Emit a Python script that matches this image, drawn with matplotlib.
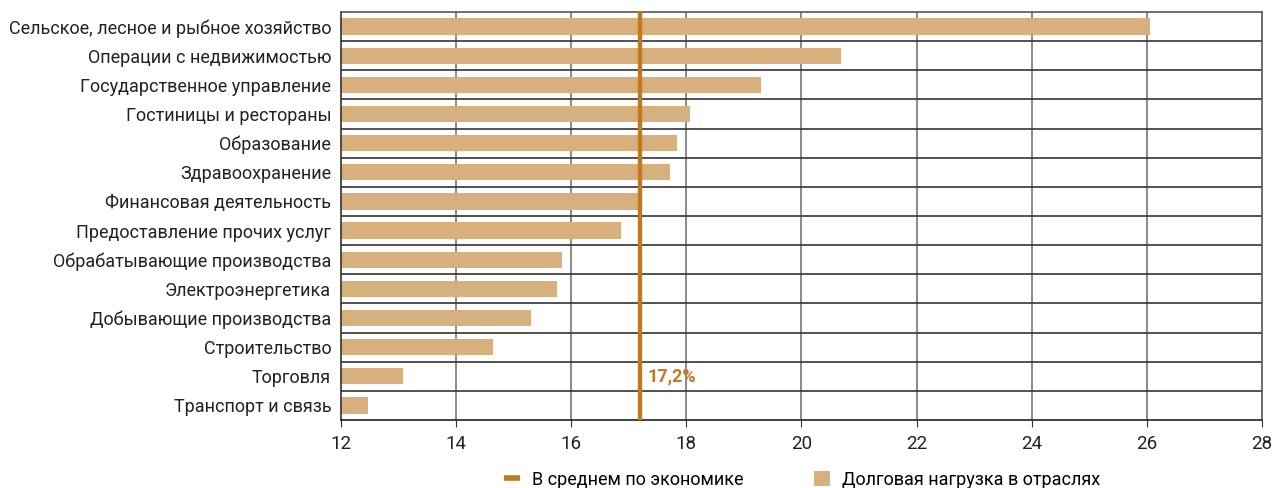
import matplotlib
matplotlib.use('Agg')
import matplotlib.pyplot as plt
import numpy as np
from matplotlib.lines import Line2D
from matplotlib.patches import Patch

plt.rcParams['font.family'] = ['Liberation Sans Narrow', 'Roboto', 'DejaVu Sans']

otrasli = ['Сельское, лесное и рыбное хозяйство', 'Операции с недвижимостью',
           'Государственное управление', 'Гостиницы и рестораны', 'Образование',
           'Здравоохранение', 'Финансовая деятельность', 'Предоставление прочих услуг',
           'Обрабатывающие производства', 'Электроэнергетика', 'Добывающие производства',
           'Строительство', 'Торговля', 'Транспорт и связь']
nagruzka = [26.05, 20.69, 19.30, 18.06, 17.84, 17.72, 17.16, 16.86,
            15.84, 15.75, 15.30, 14.64, 13.08, 12.47]
srednee = 17.2
xticks = [12, 14, 16, 18, 20, 22, 24, 26, 28]

bar_color = '#D8B07E'
line_color = '#BF7A22'

fig = plt.figure(figsize=(12.76, 4.88), dpi=100)
ax = fig.add_axes([0.2672, 0.1393, 0.7218, 0.8361])

y = np.arange(len(otrasli))
ax.barh(y, [v - 12 for v in nagruzka], left=12, height=0.56, color=bar_color, zorder=2)
ax.axvline(srednee, color=line_color, lw=3.2, zorder=3)
ax.text(srednee + 0.12, y[-2], '17,2%', color=line_color, fontsize=13,
        fontweight='bold', va='center', ha='left', zorder=4)

ax.set_xlim(12, 28)
ax.set_ylim(len(otrasli) - 0.5, -0.5)
ax.set_xticks(xticks)
ax.set_xticklabels([str(t) for t in xticks], fontsize=13.5, color='#222222')
ax.set_yticks(y)
ax.set_yticklabels(otrasli, fontsize=13, color='#222222')
ax.tick_params(axis='y', length=0, pad=7)
ax.tick_params(axis='x', length=5, color='#333333', pad=6)

# grid
for t in xticks[1:-1]:
    ax.axvline(t, color='#8a8a8a', lw=1.4, zorder=1)
for b in np.arange(0.5, len(otrasli) - 1, 1):
    ax.axhline(b, color='#333333', lw=1.2, zorder=1)
for s in ax.spines.values():
    s.set_color('#555555')
    s.set_linewidth(1.2)
ax.spines['left'].set_color('#333333')
ax.spines['bottom'].set_color('#222222')

handles = [Line2D([0], [0], color=line_color, lw=4, solid_capstyle='butt'),
           Patch(facecolor=bar_color, edgecolor='none')]
fig.legend(handles, ['В среднем по экономике', 'Долговая нагрузка в отраслях'],
           loc='lower center', bbox_to_anchor=(0.6285, -0.035), ncol=2, frameon=False,
           fontsize=13, handlelength=0.9, handleheight=0.9, columnspacing=3.9,
           handletextpad=0.65)

fig.savefig('out.png', dpi=100)
